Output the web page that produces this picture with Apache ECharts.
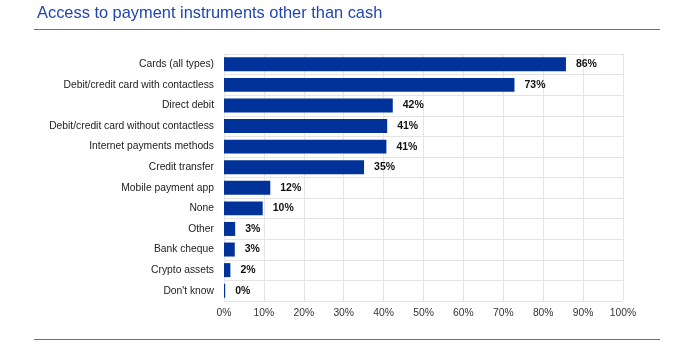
<!DOCTYPE html>
<html>
<head>
<meta charset="utf-8">
<style>html,body{margin:0;padding:0;background:#fff}#c{width:700px;height:348px}</style>
<script src="https://cdn.jsdelivr.net/npm/echarts@6/dist/echarts.min.js"></script>
</head>
<body>
<div id="c"></div>
<script>
const categories = ["Cards (all types)", "Debit/credit card with contactless", "Direct debit", "Debit/credit card without contactless", "Internet payments methods", "Credit transfer", "Mobile payment app", "None", "Other", "Bank cheque", "Crypto assets", "Don't know"];
const values = [85.7, 72.8, 42.3, 40.9, 40.7, 35.1, 11.6, 9.7, 2.8, 2.7, 1.6, 0.3];
const labels = ["86%", "73%", "42%", "41%", "41%", "35%", "12%", "10%", "3%", "3%", "2%", "0%"];
const xTicks = [0, 10, 20, 30, 40, 50, 60, 70, 80, 90, 100];

const chart = echarts.init(document.getElementById('c'), null, {renderer: 'canvas'});
chart.setOption({
  animation: false,
  title: {
    text: 'Access to payment instruments other than cash',
    left: 37, top: 5, padding: 0,
    textStyle: {fontFamily: 'Liberation Sans', fontSize: 16.4, fontWeight: 'normal', color: '#1f45b0'}
  },
  graphic: [
    {type: 'line', shape: {x1: 34, y1: 29.5, x2: 660, y2: 29.5}, style: {stroke: '#4f70c2', lineWidth: 1}},
    {type: 'line', shape: {x1: 34, y1: 339.5, x2: 660, y2: 339.5}, style: {stroke: '#4f70c2', lineWidth: 1}}
  ],
  grid: {left: 224, right: 77, top: 54, bottom: 47, containLabel: false},
  xAxis: {
    type: 'value', min: 0, max: 100, interval: 10,
    axisLine: {show: false}, axisTick: {show: false},
    splitLine: {show: true, lineStyle: {color: '#e4e4e4'}},
    axisLabel: {formatter: v => xTicks.includes(v) ? v + '%' : '', color: '#333', fontFamily: 'Liberation Sans', fontSize: 10.3, margin: 7}
  },
  yAxis: {
    type: 'category', inverse: true, data: categories,
    axisLine: {show: false}, axisTick: {show: false},
    splitLine: {show: true, interval: 0, lineStyle: {color: '#e4e4e4'}},
    axisLabel: {color: '#222', fontFamily: 'Liberation Sans', fontSize: 10.3, margin: 10}
  },
  series: [{
    type: 'bar', data: values, barWidth: '68%',
    itemStyle: {color: '#003299'},
    label: {show: true, position: 'right', distance: 10, formatter: p => labels[p.dataIndex],
      color: '#111', fontWeight: 'bold', fontFamily: 'Liberation Sans', fontSize: 10.5}
  }]
});
</script>
</body>
</html>
